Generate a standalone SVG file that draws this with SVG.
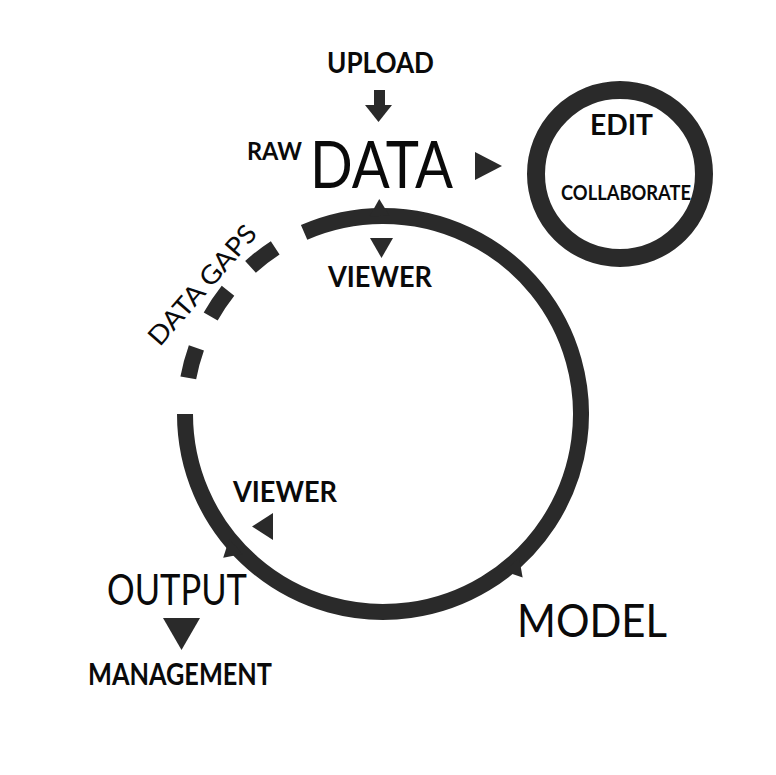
<svg xmlns="http://www.w3.org/2000/svg" width="776" height="775" viewBox="0 0 776 775">
<style>
.ring{fill:none;stroke:#2a2a2a;stroke-width:16}
.tri{fill:#2a2a2a;stroke:none}
.t{font-family:Lato,"Liberation Sans",sans-serif;fill:#0a0a0a}
.b{font-weight:700}
.m{font-weight:400}
</style>
<rect width="776" height="775" fill="#ffffff"/>
<g id="connectors">
  <path class="ring" d="M304.1,232.4 A198,198 0 1 1 185,414"/>
  <path class="ring" d="M188.3,377.9 A198,198 0 0 1 196.4,347.9"/>
  <path class="ring" d="M210.7,316.5 A198,198 0 0 1 228.0,290.7"/>
  <path class="ring" d="M250.5,266.9 A198,198 0 0 1 275.2,247.9"/>
  <polygon class="tri" points="581,404 581,424 598,414" transform="rotate(269 383 414)"/>
  <polygon class="tri" points="581,404 581,424 598,414" transform="rotate(138 383 414)"/>
  <polygon class="tri" points="581,404 581,424 598,414" transform="rotate(49.5 383 414)"/>
  <rect class="tri" x="374" y="90" width="11" height="16"/>
  <polygon class="tri" points="365,105 392,105 378.5,122"/>
  <polygon class="tri" points="475,152 475,180 502,166"/>
  <polygon class="tri" points="370,238 393,238 381.5,258"/>
  <polygon class="tri" points="273,513 273,540 252,526.5"/>
  <polygon class="tri" points="163,618 200,618 181.5,650"/>
</g>
<g id="upload"><text class="t b" x="327" y="73" font-size="29" textLength="107" lengthAdjust="spacingAndGlyphs">UPLOAD</text></g>
<g id="raw-data">
  <text class="t b" x="247" y="160" font-size="24" textLength="55" lengthAdjust="spacingAndGlyphs">RAW</text>
  <text class="t m" x="310" y="188" font-size="66" textLength="143" lengthAdjust="spacingAndGlyphs">DATA</text>
</g>
<g id="edit">
  <circle cx="620" cy="174" r="84" fill="none" stroke="#2a2a2a" stroke-width="18"/>
  <text class="t b" x="590" y="135" font-size="28" textLength="63" lengthAdjust="spacingAndGlyphs">EDIT</text>
  <text class="t b" x="561" y="200" font-size="21" textLength="130" lengthAdjust="spacingAndGlyphs">COLLABORATE</text>
</g>
<g id="viewer-top"><text class="t b" x="328" y="287" font-size="28" textLength="104" lengthAdjust="spacingAndGlyphs">VIEWER</text></g>
<g id="data-gaps"><text class="t m" transform="translate(209 291) rotate(-49)" x="0" y="0" text-anchor="middle" font-size="26" textLength="150" lengthAdjust="spacingAndGlyphs">DATA GAPS</text></g>
<g id="viewer-bottom"><text class="t b" x="233" y="502" font-size="28" textLength="104" lengthAdjust="spacingAndGlyphs">VIEWER</text></g>
<g id="output"><text class="t m" x="107" y="605" font-size="42" textLength="140" lengthAdjust="spacingAndGlyphs">OUTPUT</text></g>
<g id="management"><text class="t b" x="88" y="685" font-size="30" textLength="184" lengthAdjust="spacingAndGlyphs">MANAGEMENT</text></g>
<g id="model"><text class="t m" x="517" y="637" font-size="47" textLength="150" lengthAdjust="spacingAndGlyphs">MODEL</text></g>
</svg>
